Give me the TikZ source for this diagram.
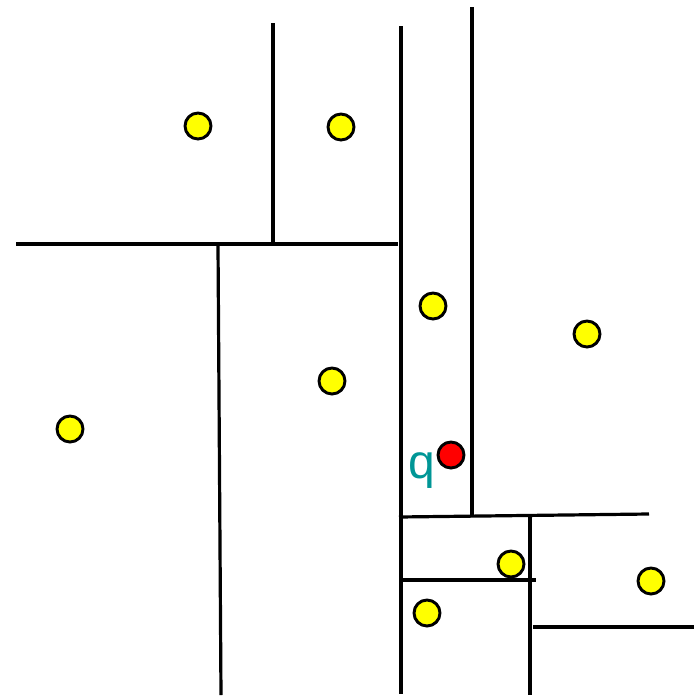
\documentclass[tikz,border=0pt]{standalone}
\usepackage{fontspec}
\setmainfont{Liberation Sans}
\definecolor{qteal}{RGB}{0,150,150}
\definecolor{ptyellow}{RGB}{255,255,0}
\definecolor{ptred}{RGB}{255,0,0}
\tikzset{
  seg/.style={line width=2.4pt},
  pt/.style={circle, draw=black, line width=2.2pt, fill=ptyellow, minimum width=18.5pt, minimum height=19.5pt, inner sep=0pt},
  qpt/.style={pt, fill=ptred},
}
\begin{document}
\begin{tikzpicture}[x=0.75pt,y=-0.75pt]
\useasboundingbox (0,0) rectangle (696,697);
% segments
\coordinate (h1a) at (16,244); \coordinate (h1b) at (398,244);
\draw[seg] (h1a) -- (h1b);
\coordinate (v1a) at (273,23); \coordinate (v1b) at (273,244);
\draw[seg] (v1a) -- (v1b);
\coordinate (v2a) at (218,245); \coordinate (v2b) at (221,695);
\draw[seg] (v2a) -- (v2b);
\coordinate (v3a) at (401,26); \coordinate (v3b) at (401,694);
\draw[seg] (v3a) -- (v3b);
\coordinate (v4a) at (472,7); \coordinate (v4b) at (472,516);
\draw[seg] (v4a) -- (v4b);
\coordinate (h2a) at (399,517); \coordinate (h2b) at (649,514);
\draw[seg] (h2a) -- (h2b);
\coordinate (v5a) at (530,516); \coordinate (v5b) at (530,695);
\draw[seg] (v5a) -- (v5b);
\coordinate (h3a) at (401,580); \coordinate (h3b) at (536,580);
\draw[seg] (h3a) -- (h3b);
\coordinate (h4a) at (533,627); \coordinate (h4b) at (694,627);
\draw[seg] (h4a) -- (h4b);
% points
\node[pt] (p1) at (198,126) {};
\node[pt] (p2) at (341,127) {};
\node[pt] (p3) at (433,306) {};
\node[pt] (p4) at (587,334) {};
\node[pt] (p5) at (332,381) {};
\node[pt] (p6) at (70,429) {};
\node[pt] (p7) at (511,564) {};
\node[pt] (p8) at (651,581) {};
\node[pt] (p9) at (427,613) {};
\node[qpt] (q) at (451,455) {};
\node[text=qteal, font=\fontsize{36}{40}\selectfont, inner sep=0pt] (ql) at (422,471) {q};
\end{tikzpicture}
\end{document}
